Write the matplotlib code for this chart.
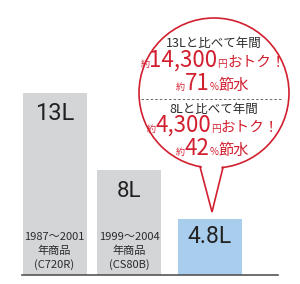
import matplotlib
matplotlib.use("Agg")
import matplotlib.pyplot as plt
from matplotlib.patches import Circle, Polygon

plt.rcParams['font.family'] = ['Noto Sans CJK JP', 'DejaVu Sans']

# ---- data ----
categories = ["13L", "8L", "4.8L"]
values = [13, 8, 4.8]
captions = [["1987～2001", "年商品", "(C720R)"],
            ["1999～2004", "年商品", "(CS80B)"],
            None]
balloon_lines = [
    [("13Lと比べて年間", "k")],
    [("約", "s"), ("14,300", "b"), ("円", "s2"), ("おトク！", "m")],
    [("約", "s"), ("71", "b"), ("%", "s2"), ("節水", "m2")],
    [("8Lと比べて年間", "k")],
    [("約", "s"), ("4,300", "b"), ("円", "s2"), ("おトク！", "m")],
    [("約", "s"), ("42", "b"), ("%", "s2"), ("節水", "m2")],
]

# ---- style / layout ----
W, H = 300, 284
bar_colors = ["#d4d5d7", "#d4d5d7", "#a9cdec"]
bar_x = [54.5, 129, 210]
bar_w = 64
red = "#d21f2f"
dark = "#2b2b2b"

fig = plt.figure(figsize=(W / 100, H / 100), dpi=100)
fig.patch.set_facecolor("white")

base_px = 275
px_per_unit = 15.366
vmin = 4.8 - (base_px - 219) / px_per_unit
vmax = 13 + 93 / px_per_unit
ax = fig.add_axes([22 / W, (H - base_px) / H, (278 - 22) / W, base_px / H])
ax.set_xlim(22, 278)
ax.set_ylim(vmin, vmax)
ax.bar(bar_x, values, width=bar_w, color=bar_colors, zorder=2)
for s in ["top", "left", "right"]:
    ax.spines[s].set_visible(False)
ax.spines["bottom"].set_color("#555555")
ax.spines["bottom"].set_linewidth(1.2)
ax.set_xticks([])
ax.set_yticks([])
ax.patch.set_alpha(0)

label_sizes = [17, 16, 16.5]
label_offs_px = [27, 27, 24]
for x, v, lab, fs, off in zip(bar_x, values, categories, label_sizes, label_offs_px):
    ax.annotate(lab, (x, v), xytext=(0, -off * 0.72), textcoords="offset points",
                ha="center", va="baseline", fontsize=fs, color="#222222",
                family=["Roboto", "DejaVu Sans"], fontweight="normal", zorder=3)

# overlay in pixel coordinates
ov = fig.add_axes([0, 0, 1, 1], zorder=5)
ov.set_xlim(0, W)
ov.set_ylim(H, 0)
ov.axis("off")
ov.patch.set_alpha(0)

cap_y = [240, 254, 268]
for x, cap in zip(bar_x, captions):
    if cap is None:
        continue
    for t, y in zip(cap, cap_y):
        ov.text(x, y, t, ha="center", va="baseline", fontsize=8, color=dark)

# balloon
cx, cy, r = 214, 93, 75
ov.add_patch(Circle((cx, cy), r, facecolor="white", edgecolor=red, lw=1.2, zorder=1))
tip = (212, 212)
xl, xr = 200, 223
yl = cy + (r ** 2 - (xl - cx) ** 2) ** 0.5
yr = cy + (r ** 2 - (xr - cx) ** 2) ** 0.5
ov.add_patch(Polygon([(xl + 0.8, yl - 4), tip, (xr - 0.8, yr - 4)], closed=True,
                     facecolor="white", edgecolor="none", zorder=2))
ov.plot([xl, tip[0], xr], [yl, tip[1], yr], color=red, lw=1.2, zorder=3,
        solid_joinstyle="miter")
ov.plot([141, 283], [99, 99], color="#555555", lw=0.6, ls=(0, (3, 2.5)), zorder=3)

styles = {
    "k": (9, dark),
    "s": (6.5, red),
    "b": (16, red),
    "s2": (7, red),
    "m": (10.5, red),
    "m2": (11, red),
}
baselines = [47, 67, 90, 113, 132, 155]
centers = [214, 213, 212, 214, 213, 212]
renderer = fig.canvas.get_renderer()
for line, yb, xc in zip(balloon_lines, baselines, centers):
    texts = []
    for t, st in line:
        fs, col = styles[st]
        tx = ov.text(0, yb, t, ha="left", va="baseline", fontsize=fs, color=col, zorder=4)
        texts.append(tx)
    widths = [tx.get_window_extent(renderer).width for tx in texts]
    total = sum(widths)
    x0 = xc - total / 2
    for tx, w in zip(texts, widths):
        tx.set_x(x0)
        x0 += w

fig.savefig("out.png", dpi=100, facecolor="white")
